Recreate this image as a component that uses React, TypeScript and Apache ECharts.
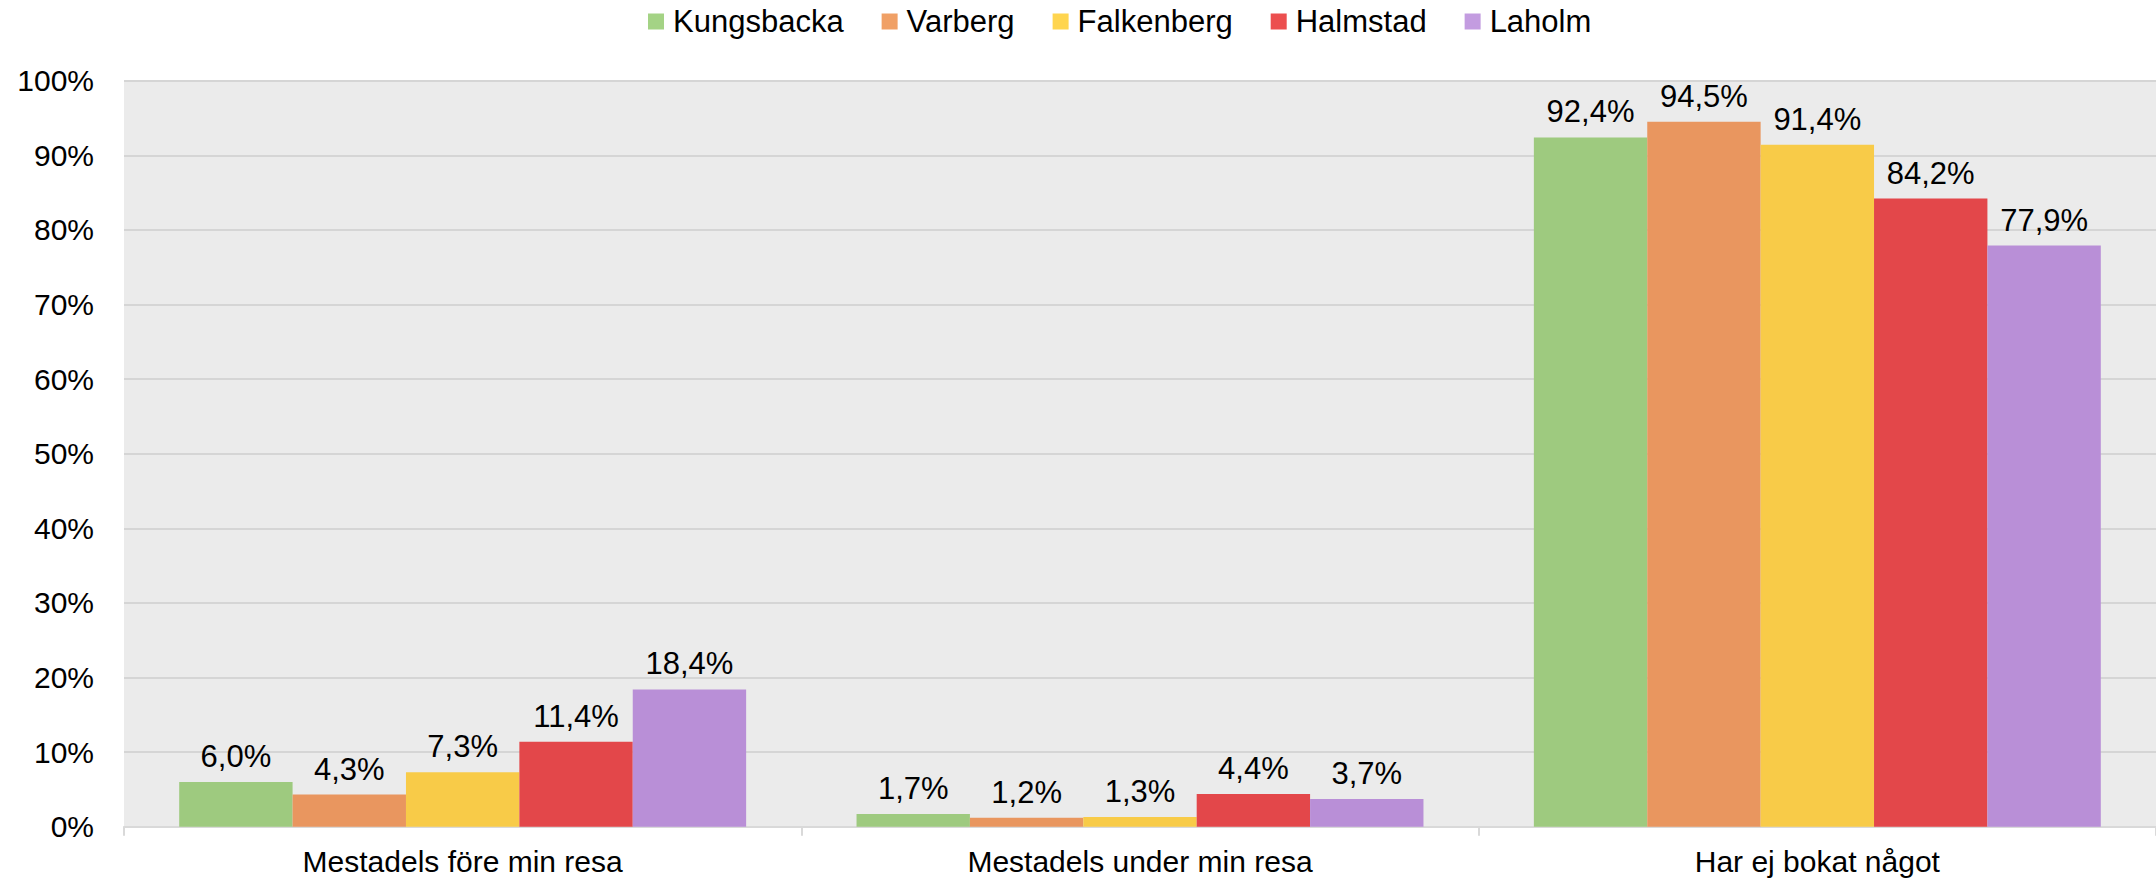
import React, { useEffect, useRef } from "react";
import * as echarts from "echarts";

const categories = ["Mestadels före min resa", "Mestadels under min resa", "Har ej bokat något"];
const seriesNames = ["Kungsbacka", "Varberg", "Falkenberg", "Halmstad", "Laholm"];
const kungsbacka = [6.0, 1.7, 92.4];
const varberg = [4.3, 1.2, 94.5];
const falkenberg = [7.3, 1.3, 91.4];
const halmstad = [11.4, 4.4, 84.2];
const laholm = [18.4, 3.7, 77.9];
const barColors = ["#9ECA7F", "#E9965F", "#F8CB48", "#E3474A", "#B98FD7"];
const legendColors = ["#A4D385", "#F0A066", "#FFD54F", "#EC4F4F", "#C39CE0"];

const FONT = "'Liberation Sans', Arial, sans-serif";

export default function App() {
  const ref = useRef<HTMLDivElement>(null);
  useEffect(() => {
    document.body.style.margin = "0";
    const chart = echarts.init(ref.current!, null, { renderer: "svg" });
    const values = [kungsbacka, varberg, falkenberg, halmstad, laholm];
    chart.setOption({
      animation: false,
      textStyle: { fontFamily: FONT, color: "#000" },
      legend: {
        left: 643,
        top: 1,
        itemWidth: 16,
        itemHeight: 16,
        itemGap: 38,
        icon: "rect",
        textStyle: { fontSize: 31, color: "#000", fontFamily: FONT, padding: [0, 0, 0, 4] },
        data: seriesNames.map((n, i) => ({ name: n, itemStyle: { color: legendColors[i] } })),
      },
      grid: {
        left: 124,
        right: 0,
        top: 80.7,
        bottom: 52.3,
        show: true,
        backgroundColor: "#EBEBEB",
        borderWidth: 0,
      },
      xAxis: {
        type: "category",
        data: categories,
        axisLine: { show: true, lineStyle: { color: "#D9D9D9", width: 2 } },
        axisTick: { show: true, length: 9, lineStyle: { color: "#D9D9D9", width: 2 } },
        axisLabel: { fontSize: 30, color: "#000", margin: 20, fontFamily: FONT },
      },
      yAxis: {
        type: "value",
        min: 0,
        max: 100,
        interval: 10,
        axisLine: { show: false },
        axisTick: { show: false },
        splitLine: { show: true, lineStyle: { color: "#D5D5D5", width: 2 } },
        axisLabel: { fontSize: 30, color: "#000", margin: 30, fontFamily: FONT, formatter: "{value}%" },
      },
      series: seriesNames.map((n, i) => ({
        name: n,
        type: "bar",
        data: values[i],
        barGap: "0%",
        barCategoryGap: "16.3%",
        itemStyle: { color: barColors[i] },
        label: {
          show: true,
          position: "top",
          distance: 10,
          fontSize: 31,
          color: "#000",
          fontFamily: FONT,
          formatter: (p: any) => p.value.toFixed(1).replace(".", ",") + "%",
        },
      })),
    });
    return () => chart.dispose();
  }, []);
  return (
    <div
      ref={ref}
      style={{ position: "fixed", left: 0, top: 0, width: 2156, height: 879, background: "#fff" }}
    />
  );
}
